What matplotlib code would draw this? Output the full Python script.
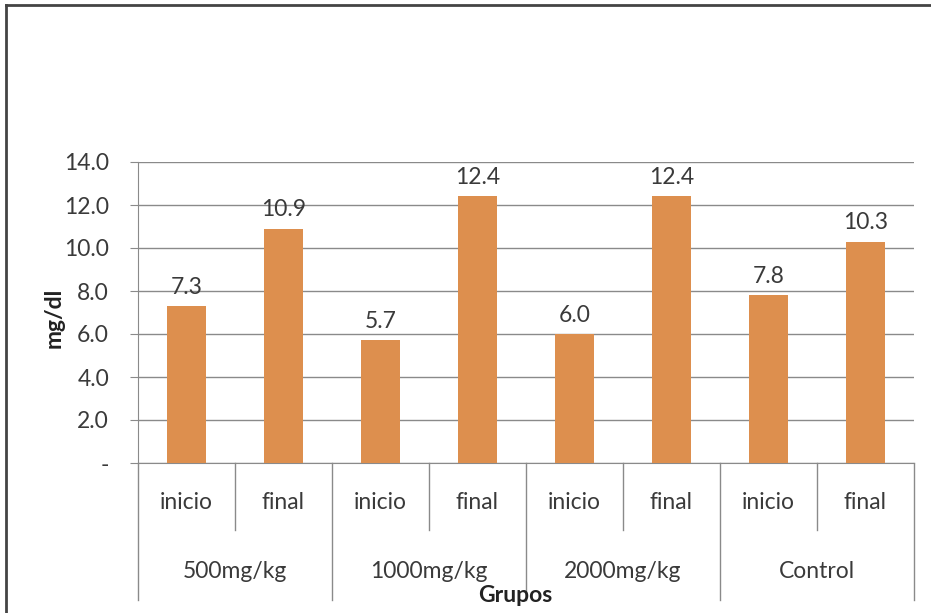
import numpy as np, matplotlib as mpl
mpl.use("Agg"); import matplotlib.pyplot as plt
from matplotlib.lines import Line2D
import matplotlib.transforms as mtrans

# ---- data ----
groups=["500mg/kg","1000mg/kg","2000mg/kg","Control"]
phases=["inicio","final"]
values=[7.3,10.9,5.7,12.4,6.0,12.4,7.8,10.3]
yticks=[0,2,4,6,8,10,12,14]
yticklabels=["-","2.0","4.0","6.0","8.0","10.0","12.0","14.0"]

BAR="#DD8F4E"; GRID="#8a8a8a"; TXT="#3a3a3a"; FS=16.5
plt.rcParams.update({"font.family":["Lato","DejaVu Sans"],"font.size":FS})

fig=plt.figure(figsize=(9.31,6.13),dpi=100)
ax=fig.add_axes([138/931,1-463/613,(914-138)/931,(463-162)/613])
x=np.arange(len(values))
ax.bar(x,values,width=0.41,color=BAR,zorder=3)
for xi,v in zip(x,values):
    ax.annotate(f"{v:.1f}",(xi,v),xytext=(0,6),textcoords="offset points",
                ha="center",va="bottom",fontsize=FS,color=TXT)
ax.set_xlim(-0.5,len(values)-0.5); ax.set_ylim(0,14)
ax.set_yticks(yticks); ax.set_yticklabels(yticklabels,color=TXT)
ax.yaxis.grid(True,color=GRID,linewidth=1); ax.set_axisbelow(True)
ax.tick_params(axis="y",length=5.8,color=GRID,pad=15)
ax.set_xticks([])
for s in ["top","right"]: ax.spines[s].set_visible(False)
for s in ["left","bottom"]: ax.spines[s].set_color(GRID)

# category axis (two levels)
tr=mtrans.blended_transform_factory(ax.transData,ax.transAxes)
for i in range(len(values)+1):
    xb=i-0.5; low=-0.455 if i%2==0 else -0.222
    ax.add_line(Line2D([xb,xb],[0,low],transform=tr,color=GRID,lw=1,clip_on=False))
for i in range(len(values)):
    ax.text(i,-0.13,phases[i%2],transform=tr,ha="center",va="center",fontsize=FS,color=TXT)
for g,name in enumerate(groups):
    ax.text(2*g+0.5,-0.36,name,transform=tr,ha="center",va="center",fontsize=FS,color=TXT)

ax.set_ylabel("mg/dl",fontweight="bold",fontsize=FS,color="#222")
ax.yaxis.set_label_coords(-0.094,0.482)
fig.text(515/931,1-595/613,"Grupos",ha="center",va="center",fontweight="bold",fontsize=FS,color="#222")

# outer frame (left and top only)
fig.add_artist(Line2D([6/931,6/931],[0,1-5/613],transform=fig.transFigure,color="#444",lw=2))
fig.add_artist(Line2D([6/931,1],[1-5/613,1-5/613],transform=fig.transFigure,color="#444",lw=2))

fig.savefig("out.png",dpi=100)
